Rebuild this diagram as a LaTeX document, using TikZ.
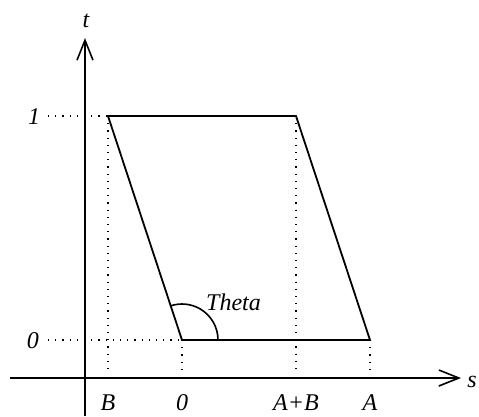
\documentclass[tikz,border=0pt]{standalone}
\usepackage{fontspec}
\setmainfont{Liberation Serif}
\usetikzlibrary{arrows.meta}
\begin{document}
\begin{tikzpicture}[x=1pt,y=-1pt,
  axis/.style={line width=1.8pt,-{Straight Barb[length=20pt,width=16pt,line width=1.6pt]}},
  shapeline/.style={line width=1.8pt,line join=miter},
  guide/.style={line width=1.2pt,dash pattern=on 1.2pt off 6pt},
  lbl/.style={font=\fontsize{24}{28}\selectfont\itshape,inner sep=0pt}]
\useasboundingbox (0,0) rectangle (479,416);
% corners
\coordinate (TL) at (108,116);
\coordinate (TR) at (296,116);
\coordinate (BR) at (370,340);
\coordinate (BL) at (182,340);
\coordinate (xs) at (10,378);
\coordinate (xe) at (461,378);
\coordinate (ys) at (85,416);
\coordinate (ye) at (85,38);
% guide ends
\coordinate (g1) at (48,116);
\coordinate (g0) at (48,340);
\coordinate (gB) at (108,373);
\coordinate (g0b) at (182,373);
\coordinate (gAB) at (296,373);
\coordinate (gA) at (370,373);
% dotted guides
\draw[guide] (g1) -- (TL);
\draw[guide] (g0) -- (BL);
\draw[guide] (TL) -- (gB);
\draw[guide] (BL) -- (g0b);
\draw[guide] (TR) -- (gAB);
\draw[guide] (BR) -- (gA);
% axes
\draw[axis] (xs) -- (xe);
\draw[axis] (ys) -- (ye);
% parallelogram
\draw[shapeline] (TL) -- (TR) -- (BR) -- (BL) -- cycle;
% angle arc
\draw[line width=1.6pt] (BL) ++(36,0) arc[start angle=0,end angle=-108.3,radius=36];
% labels
\node[lbl] (tl) at (86,21) {t};
\node[lbl,anchor=base] (sl) at (472,387) {s};
\node[lbl] (one) at (34,117) {1};
\node[lbl] (zero) at (33,341) {0};
\node[lbl,anchor=base] (bl) at (108,410) {B};
\node[lbl,anchor=base] (zb) at (182,410) {0};
\node[lbl,anchor=base] (abl) at (296,410) {A+B};
\node[lbl,anchor=base] (al) at (370,410) {A};
\node[lbl,anchor=base west] (th) at (206,310) {Theta};
\end{tikzpicture}
\end{document}
